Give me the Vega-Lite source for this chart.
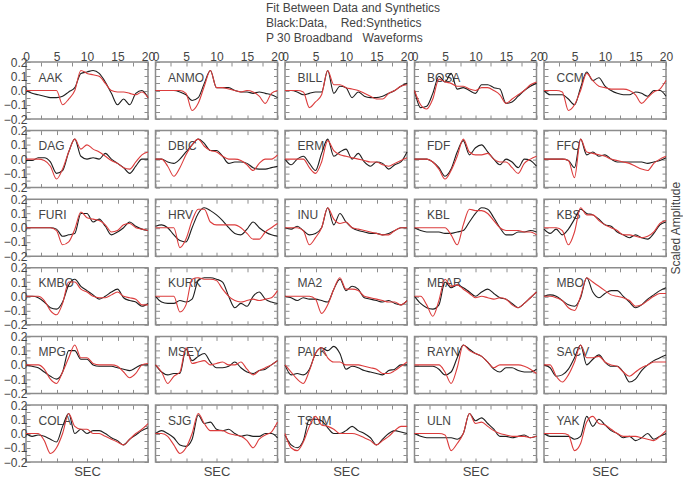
{
"$schema":"https://vega.github.io/schema/vega-lite/v6.json",
"padding":{"left":2,"top":2,"right":0,"bottom":0},
"background":"white",
"title":{"text":["Fit Between Data and Synthetics","Black:Data,\u00a0\u00a0\u00a0 Red:Synthetics","P 30 Broadband\u00a0\u00a0 Waveforms"],"anchor":"start","frame":"group","dx":240,"offset":4,"fontSize":12,"font":"Liberation Sans Narrow, Liberation Sans, sans-serif","fontWeight":"normal","color":"#444","lineHeight":15},
"datasets":{
"AAK":[{"t":0,"d":0,"r":0},{"t":1,"d":-0.02,"r":0},{"t":2,"d":-0.03,"r":0},{"t":3,"d":-0.04,"r":0},{"t":4,"d":-0.05,"r":0},{"t":5,"d":-0.05,"r":0},{"t":6,"d":-0.04,"r":-0.1},{"t":7,"d":-0.01,"r":-0.06},{"t":8,"d":0.02,"r":0},{"t":9,"d":0.12,"r":0.14},{"t":10,"d":0.13,"r":0.12},{"t":11,"d":0.14,"r":0.11},{"t":12,"d":0.12,"r":0.1},{"t":13,"d":0.06,"r":0.05},{"t":14,"d":-0.02,"r":0},{"t":15,"d":-0.1,"r":-0.01},{"t":16,"d":-0.06,"r":-0.01},{"t":17,"d":-0.1,"r":-0.02},{"t":18,"d":-0.02,"r":-0.03},{"t":19,"d":0,"r":-0.01},{"t":20,"d":-0.05,"r":-0.05}],
"ANMO":[{"t":0,"d":0,"r":0},{"t":1,"d":0,"r":0},{"t":2,"d":0,"r":0},{"t":3,"d":0,"r":0},{"t":4,"d":-0.01,"r":0},{"t":5,"d":-0.03,"r":-0.02},{"t":6,"d":-0.07,"r":-0.14},{"t":7,"d":-0.05,"r":-0.09},{"t":8,"d":0.05,"r":0.03},{"t":9,"d":0.14,"r":0.14},{"t":10,"d":0.02,"r":0.02},{"t":11,"d":0.02,"r":0.02},{"t":12,"d":0.02,"r":0.01},{"t":13,"d":0,"r":0},{"t":14,"d":-0.01,"r":-0.01},{"t":15,"d":-0.01,"r":0},{"t":16,"d":-0.02,"r":-0.01},{"t":17,"d":-0.01,"r":-0.04},{"t":18,"d":-0.02,"r":-0.09},{"t":19,"d":-0.03,"r":-0.02},{"t":20,"d":-0.05,"r":0}],
"BILL":[{"t":0,"d":0,"r":0},{"t":1,"d":0,"r":0},{"t":2,"d":-0.01,"r":0},{"t":3,"d":-0.03,"r":-0.01},{"t":4,"d":-0.02,"r":-0.12},{"t":5,"d":-0.01,"r":-0.08},{"t":6,"d":-0.01,"r":-0.03},{"t":7,"d":0.14,"r":0.14},{"t":8,"d":-0.02,"r":0.04},{"t":9,"d":0.03,"r":0.04},{"t":10,"d":0.02,"r":0.02},{"t":11,"d":-0.05,"r":0.01},{"t":12,"d":-0.01,"r":0},{"t":13,"d":-0.04,"r":-0.02},{"t":14,"d":-0.05,"r":-0.04},{"t":15,"d":-0.05,"r":-0.06},{"t":16,"d":-0.04,"r":-0.06},{"t":17,"d":-0.02,"r":-0.02},{"t":18,"d":0,"r":0},{"t":19,"d":0.03,"r":0.03},{"t":20,"d":0.05,"r":0.04}],
"BOSA":[{"t":0,"d":0,"r":0},{"t":1,"d":-0.12,"r":-0.1},{"t":2,"d":-0.11,"r":-0.13},{"t":3,"d":-0.02,"r":-0.06},{"t":4,"d":0.1,"r":0.08},{"t":5,"d":0.06,"r":0.06},{"t":6,"d":0.12,"r":0.05},{"t":7,"d":0.01,"r":0.03},{"t":8,"d":0.02,"r":0.03},{"t":9,"d":0,"r":0.01},{"t":10,"d":-0.02,"r":0},{"t":11,"d":0.04,"r":0.02},{"t":12,"d":0.04,"r":0.02},{"t":13,"d":0.02,"r":0},{"t":14,"d":0.01,"r":-0.03},{"t":15,"d":-0.09,"r":-0.09},{"t":16,"d":-0.08,"r":-0.06},{"t":17,"d":-0.04,"r":-0.03},{"t":18,"d":0,"r":0},{"t":19,"d":0.03,"r":0.04},{"t":20,"d":0.05,"r":0.06}],
"CCM":[{"t":0,"d":0,"r":0},{"t":1,"d":-0.03,"r":0},{"t":2,"d":-0.03,"r":0},{"t":3,"d":-0.03,"r":-0.01},{"t":4,"d":-0.06,"r":-0.14},{"t":5,"d":-0.1,"r":-0.1},{"t":6,"d":0.02,"r":0},{"t":7,"d":0.13,"r":0.12},{"t":8,"d":0.07,"r":0.07},{"t":9,"d":0.09,"r":0.03},{"t":10,"d":0.03,"r":0.02},{"t":11,"d":0,"r":0.01},{"t":12,"d":-0.02,"r":0.01},{"t":13,"d":-0.03,"r":0.01},{"t":14,"d":-0.03,"r":0},{"t":15,"d":-0.01,"r":-0.03},{"t":16,"d":-0.02,"r":-0.09},{"t":17,"d":-0.04,"r":-0.05},{"t":18,"d":0,"r":-0.01},{"t":19,"d":0,"r":0.01},{"t":20,"d":-0.04,"r":0.07}],
"DAG":[{"t":0,"d":-0.01,"r":0},{"t":1,"d":-0.01,"r":0},{"t":2,"d":0.01,"r":0},{"t":3,"d":0.01,"r":-0.01},{"t":4,"d":-0.02,"r":-0.05},{"t":5,"d":-0.1,"r":-0.14},{"t":6,"d":-0.08,"r":-0.07},{"t":7,"d":0.05,"r":0.05},{"t":8,"d":0.14,"r":0.14},{"t":9,"d":0.02,"r":0.07},{"t":10,"d":0,"r":0.1},{"t":11,"d":0.01,"r":0.07},{"t":12,"d":0,"r":0.05},{"t":13,"d":0.04,"r":0.02},{"t":14,"d":0,"r":-0.01},{"t":15,"d":-0.03,"r":-0.03},{"t":16,"d":-0.06,"r":-0.06},{"t":17,"d":-0.1,"r":-0.07},{"t":18,"d":-0.05,"r":-0.02},{"t":19,"d":0,"r":0.03},{"t":20,"d":0,"r":0.05}],
"DBIC":[{"t":0,"d":0,"r":0},{"t":1,"d":0,"r":0},{"t":2,"d":-0.02,"r":-0.05},{"t":3,"d":-0.03,"r":-0.12},{"t":4,"d":0,"r":-0.06},{"t":5,"d":0.05,"r":0.03},{"t":6,"d":0.1,"r":0.1},{"t":7,"d":0.14,"r":0.14},{"t":8,"d":0.11,"r":0.09},{"t":9,"d":0.06,"r":0.06},{"t":10,"d":0.06,"r":0.05},{"t":11,"d":0.02,"r":0.02},{"t":12,"d":-0.03,"r":0},{"t":13,"d":-0.02,"r":0},{"t":14,"d":-0.02,"r":-0.01},{"t":15,"d":-0.03,"r":-0.04},{"t":16,"d":-0.06,"r":-0.08},{"t":17,"d":-0.07,"r":-0.03},{"t":18,"d":-0.07,"r":0},{"t":19,"d":-0.06,"r":0},{"t":20,"d":-0.05,"r":0.03}],
"ERM":[{"t":0,"d":0,"r":0},{"t":1,"d":-0.04,"r":0},{"t":2,"d":0,"r":0},{"t":3,"d":0.02,"r":0},{"t":4,"d":-0.03,"r":-0.06},{"t":5,"d":-0.08,"r":-0.1},{"t":6,"d":0.04,"r":-0.02},{"t":7,"d":0.14,"r":0.13},{"t":8,"d":0.02,"r":0.06},{"t":9,"d":0.05,"r":0.03},{"t":10,"d":0.07,"r":0.02},{"t":11,"d":0,"r":0.01},{"t":12,"d":0.04,"r":0},{"t":13,"d":-0.02,"r":-0.01},{"t":14,"d":-0.05,"r":-0.02},{"t":15,"d":-0.02,"r":-0.02},{"t":16,"d":-0.03,"r":-0.04},{"t":17,"d":-0.07,"r":-0.05},{"t":18,"d":-0.04,"r":-0.03},{"t":19,"d":-0.02,"r":-0.01},{"t":20,"d":0.05,"r":0.01}],
"FDF":[{"t":0,"d":0,"r":0},{"t":1,"d":0,"r":0},{"t":2,"d":0,"r":0},{"t":3,"d":-0.02,"r":-0.02},{"t":4,"d":-0.06,"r":-0.07},{"t":5,"d":-0.12,"r":-0.14},{"t":6,"d":-0.07,"r":-0.08},{"t":7,"d":0.05,"r":0.02},{"t":8,"d":0.13,"r":0.14},{"t":9,"d":0.03,"r":0.05},{"t":10,"d":0.08,"r":0.03},{"t":11,"d":0.1,"r":0.03},{"t":12,"d":0.05,"r":0.04},{"t":13,"d":0,"r":0},{"t":14,"d":-0.04,"r":-0.02},{"t":15,"d":0,"r":-0.02},{"t":16,"d":-0.02,"r":-0.06},{"t":17,"d":-0.06,"r":-0.1},{"t":18,"d":0,"r":-0.03},{"t":19,"d":-0.01,"r":0},{"t":20,"d":-0.05,"r":0.02}],
"FFC":[{"t":0,"d":0,"r":0},{"t":1,"d":0,"r":0},{"t":2,"d":0,"r":0},{"t":3,"d":0,"r":0},{"t":4,"d":-0.01,"r":-0.01},{"t":5,"d":-0.06,"r":-0.13},{"t":6,"d":0.14,"r":0.14},{"t":7,"d":0.03,"r":0.05},{"t":8,"d":0.05,"r":0.04},{"t":9,"d":0.02,"r":0.03},{"t":10,"d":0.03,"r":0.02},{"t":11,"d":0,"r":0},{"t":12,"d":-0.02,"r":-0.01},{"t":13,"d":-0.02,"r":-0.02},{"t":14,"d":-0.02,"r":-0.03},{"t":15,"d":-0.02,"r":-0.05},{"t":16,"d":-0.02,"r":-0.07},{"t":17,"d":-0.03,"r":-0.08},{"t":18,"d":-0.02,"r":-0.03},{"t":19,"d":-0.01,"r":0},{"t":20,"d":0.01,"r":0.02}],
"FURI":[{"t":0,"d":0,"r":0},{"t":1,"d":0,"r":0},{"t":2,"d":0,"r":0},{"t":3,"d":0,"r":0},{"t":4,"d":0,"r":0},{"t":5,"d":-0.01,"r":-0.02},{"t":6,"d":-0.06,"r":-0.12},{"t":7,"d":-0.05,"r":-0.1},{"t":8,"d":-0.04,"r":-0.01},{"t":9,"d":0.1,"r":0.11},{"t":10,"d":0.1,"r":0.07},{"t":11,"d":0.04,"r":0.06},{"t":12,"d":0.06,"r":0.05},{"t":13,"d":0.01,"r":0.02},{"t":14,"d":-0.05,"r":-0.03},{"t":15,"d":-0.03,"r":-0.02},{"t":16,"d":0,"r":0.02},{"t":17,"d":0.04,"r":0.03},{"t":18,"d":0.01,"r":0},{"t":19,"d":-0.01,"r":-0.01},{"t":20,"d":-0.02,"r":-0.02}],
"HRV":[{"t":0,"d":0.01,"r":0},{"t":1,"d":0.02,"r":0},{"t":2,"d":0,"r":0},{"t":3,"d":-0.05,"r":0},{"t":4,"d":-0.09,"r":-0.14},{"t":5,"d":-0.1,"r":-0.08},{"t":6,"d":0,"r":0.05},{"t":7,"d":0.1,"r":0.13},{"t":8,"d":0.14,"r":0.13},{"t":9,"d":0.12,"r":0.04},{"t":10,"d":0.09,"r":0.02},{"t":11,"d":0.05,"r":0.02},{"t":12,"d":0,"r":0.02},{"t":13,"d":-0.04,"r":0.02},{"t":14,"d":-0.05,"r":0},{"t":15,"d":-0.01,"r":-0.04},{"t":16,"d":0.04,"r":-0.08},{"t":17,"d":0,"r":-0.08},{"t":18,"d":-0.03,"r":-0.03},{"t":19,"d":-0.05,"r":0},{"t":20,"d":-0.06,"r":0.03}],
"INU":[{"t":0,"d":0,"r":0},{"t":1,"d":-0.01,"r":0},{"t":2,"d":0.01,"r":0},{"t":3,"d":-0.02,"r":-0.02},{"t":4,"d":-0.05,"r":-0.12},{"t":5,"d":-0.04,"r":-0.07},{"t":6,"d":0,"r":0},{"t":7,"d":0.14,"r":0.14},{"t":8,"d":0.02,"r":0.06},{"t":9,"d":0.1,"r":0.03},{"t":10,"d":0.04,"r":0.04},{"t":11,"d":0,"r":0},{"t":12,"d":-0.02,"r":-0.01},{"t":13,"d":-0.03,"r":-0.02},{"t":14,"d":-0.04,"r":-0.03},{"t":15,"d":-0.04,"r":-0.04},{"t":16,"d":-0.05,"r":-0.05},{"t":17,"d":-0.04,"r":-0.05},{"t":18,"d":-0.02,"r":-0.02},{"t":19,"d":0,"r":0},{"t":20,"d":0,"r":0}],
"KBL":[{"t":0,"d":0,"r":0},{"t":1,"d":-0.02,"r":0},{"t":2,"d":-0.03,"r":0},{"t":3,"d":-0.03,"r":0},{"t":4,"d":-0.03,"r":0},{"t":5,"d":-0.04,"r":0},{"t":6,"d":-0.04,"r":-0.05},{"t":7,"d":-0.03,"r":-0.12},{"t":8,"d":-0.02,"r":0.02},{"t":9,"d":0.04,"r":0.13},{"t":10,"d":0.1,"r":0.12},{"t":11,"d":0.14,"r":0.12},{"t":12,"d":0.13,"r":0.1},{"t":13,"d":0.07,"r":0.05},{"t":14,"d":0,"r":0},{"t":15,"d":-0.05,"r":-0.02},{"t":16,"d":-0.05,"r":-0.02},{"t":17,"d":-0.03,"r":-0.02},{"t":18,"d":-0.03,"r":-0.03},{"t":19,"d":-0.02,"r":-0.03},{"t":20,"d":-0.03,"r":-0.05}],
"KBS":[{"t":0,"d":-0.01,"r":0},{"t":1,"d":-0.04,"r":0},{"t":2,"d":-0.01,"r":0},{"t":3,"d":-0.05,"r":-0.02},{"t":4,"d":-0.01,"r":-0.12},{"t":5,"d":0.06,"r":-0.03},{"t":6,"d":0.13,"r":0.14},{"t":7,"d":0.1,"r":0.09},{"t":8,"d":0.09,"r":0.09},{"t":9,"d":0.06,"r":0.05},{"t":10,"d":0.02,"r":0.02},{"t":11,"d":0.01,"r":0},{"t":12,"d":-0.03,"r":-0.02},{"t":13,"d":-0.05,"r":-0.05},{"t":14,"d":-0.07,"r":-0.05},{"t":15,"d":-0.05,"r":-0.06},{"t":16,"d":-0.07,"r":-0.07},{"t":17,"d":-0.08,"r":-0.06},{"t":18,"d":-0.04,"r":-0.03},{"t":19,"d":0.02,"r":0.03},{"t":20,"d":0.04,"r":0.05}],
"KMBO":[{"t":0,"d":0,"r":0},{"t":1,"d":0,"r":0},{"t":2,"d":-0.01,"r":0},{"t":3,"d":-0.04,"r":-0.03},{"t":4,"d":-0.08,"r":-0.1},{"t":5,"d":-0.09,"r":-0.13},{"t":6,"d":-0.04,"r":-0.05},{"t":7,"d":0.08,"r":0.1},{"t":8,"d":0.12,"r":0.1},{"t":9,"d":0.07,"r":0.05},{"t":10,"d":0.04,"r":0.03},{"t":11,"d":0.01,"r":0},{"t":12,"d":-0.02,"r":-0.01},{"t":13,"d":0,"r":-0.01},{"t":14,"d":0.03,"r":0.01},{"t":15,"d":0.05,"r":0.03},{"t":16,"d":-0.01,"r":0},{"t":17,"d":-0.03,"r":-0.01},{"t":18,"d":-0.04,"r":-0.02},{"t":19,"d":-0.07,"r":-0.06},{"t":20,"d":-0.05,"r":-0.06}],
"KURK":[{"t":0,"d":0,"r":0},{"t":1,"d":-0.04,"r":0},{"t":2,"d":-0.05,"r":0},{"t":3,"d":-0.05,"r":0},{"t":4,"d":-0.03,"r":-0.11},{"t":5,"d":-0.04,"r":-0.06},{"t":6,"d":-0.02,"r":0.12},{"t":7,"d":0.11,"r":0.13},{"t":8,"d":0.13,"r":0.12},{"t":9,"d":0.13,"r":0.12},{"t":10,"d":0.12,"r":0.11},{"t":11,"d":0.1,"r":0.05},{"t":12,"d":0,"r":0},{"t":13,"d":-0.08,"r":-0.03},{"t":14,"d":-0.05,"r":-0.04},{"t":15,"d":-0.07,"r":-0.03},{"t":16,"d":0,"r":-0.02},{"t":17,"d":0.03,"r":-0.03},{"t":18,"d":-0.02,"r":-0.02},{"t":19,"d":-0.04,"r":-0.01},{"t":20,"d":-0.05,"r":0.04}],
"MA2":[{"t":0,"d":0,"r":0},{"t":1,"d":-0.01,"r":0},{"t":2,"d":-0.03,"r":0},{"t":3,"d":-0.01,"r":0},{"t":4,"d":-0.02,"r":0},{"t":5,"d":-0.02,"r":-0.02},{"t":6,"d":-0.03,"r":-0.12},{"t":7,"d":-0.04,"r":-0.06},{"t":8,"d":0.05,"r":0.05},{"t":9,"d":0.12,"r":0.13},{"t":10,"d":0.04,"r":0.05},{"t":11,"d":0.07,"r":0.05},{"t":12,"d":0.05,"r":0.04},{"t":13,"d":-0.01,"r":0},{"t":14,"d":-0.02,"r":-0.01},{"t":15,"d":-0.03,"r":-0.02},{"t":16,"d":-0.04,"r":-0.03},{"t":17,"d":-0.03,"r":-0.04},{"t":18,"d":-0.05,"r":-0.04},{"t":19,"d":-0.06,"r":-0.06},{"t":20,"d":-0.03,"r":-0.03}],
"MBAR":[{"t":0,"d":0,"r":0},{"t":1,"d":-0.05,"r":0},{"t":2,"d":-0.08,"r":-0.06},{"t":3,"d":-0.09,"r":-0.14},{"t":4,"d":-0.06,"r":-0.03},{"t":5,"d":0.1,"r":0.12},{"t":6,"d":0.06,"r":0.07},{"t":7,"d":0.08,"r":0.08},{"t":8,"d":0.06,"r":0.05},{"t":9,"d":0.03,"r":0.02},{"t":10,"d":0,"r":-0.01},{"t":11,"d":0.03,"r":0},{"t":12,"d":0.05,"r":-0.01},{"t":13,"d":0.02,"r":-0.02},{"t":14,"d":-0.01,"r":-0.01},{"t":15,"d":-0.02,"r":-0.02},{"t":16,"d":-0.05,"r":-0.06},{"t":17,"d":-0.08,"r":-0.08},{"t":18,"d":-0.05,"r":-0.05},{"t":19,"d":-0.01,"r":-0.01},{"t":20,"d":0.03,"r":0.03}],
"MBO":[{"t":0,"d":0,"r":0},{"t":1,"d":0.01,"r":0},{"t":2,"d":0,"r":-0.01},{"t":3,"d":-0.03,"r":-0.03},{"t":4,"d":-0.06,"r":-0.08},{"t":5,"d":-0.07,"r":-0.1},{"t":6,"d":-0.01,"r":0},{"t":7,"d":0.13,"r":0.13},{"t":8,"d":0.03,"r":0.1},{"t":9,"d":-0.01,"r":0.07},{"t":10,"d":0.02,"r":0.04},{"t":11,"d":0.04,"r":0.01},{"t":12,"d":0.04,"r":0},{"t":13,"d":0,"r":-0.01},{"t":14,"d":-0.04,"r":-0.03},{"t":15,"d":-0.08,"r":-0.07},{"t":16,"d":-0.06,"r":-0.06},{"t":17,"d":-0.02,"r":-0.03},{"t":18,"d":0.01,"r":0},{"t":19,"d":0.04,"r":0.02},{"t":20,"d":0.06,"r":0.02}],
"MPG":[{"t":0,"d":0,"r":0},{"t":1,"d":-0.01,"r":0},{"t":2,"d":-0.02,"r":0},{"t":3,"d":-0.05,"r":-0.03},{"t":4,"d":-0.08,"r":-0.1},{"t":5,"d":-0.1,"r":-0.13},{"t":6,"d":-0.05,"r":-0.05},{"t":7,"d":0.1,"r":0.05},{"t":8,"d":0.1,"r":0.14},{"t":9,"d":0.04,"r":0.05},{"t":10,"d":0.04,"r":0.05},{"t":11,"d":0,"r":0.01},{"t":12,"d":-0.01,"r":0},{"t":13,"d":-0.01,"r":0},{"t":14,"d":-0.01,"r":0},{"t":15,"d":-0.02,"r":-0.01},{"t":16,"d":-0.03,"r":-0.05},{"t":17,"d":-0.04,"r":-0.09},{"t":18,"d":-0.02,"r":-0.06},{"t":19,"d":0,"r":0},{"t":20,"d":0,"r":0.01}],
"MSEY":[{"t":0,"d":0,"r":0},{"t":1,"d":-0.05,"r":-0.05},{"t":2,"d":-0.07,"r":-0.13},{"t":3,"d":-0.06,"r":-0.08},{"t":4,"d":-0.06,"r":-0.05},{"t":5,"d":0.11,"r":0.12},{"t":6,"d":0.03,"r":0.01},{"t":7,"d":0.06,"r":0.02},{"t":8,"d":0.08,"r":0.03},{"t":9,"d":0.02,"r":0},{"t":10,"d":-0.02,"r":0.01},{"t":11,"d":-0.02,"r":0.02},{"t":12,"d":-0.01,"r":0},{"t":13,"d":0.02,"r":0},{"t":14,"d":-0.02,"r":0.02},{"t":15,"d":-0.05,"r":-0.03},{"t":16,"d":-0.06,"r":-0.07},{"t":17,"d":-0.04,"r":-0.04},{"t":18,"d":-0.03,"r":-0.02},{"t":19,"d":0,"r":0},{"t":20,"d":0.03,"r":0.03}],
"PALK":[{"t":0,"d":0,"r":0},{"t":1,"d":-0.07,"r":-0.05},{"t":2,"d":-0.06,"r":-0.1},{"t":3,"d":-0.07,"r":-0.13},{"t":4,"d":-0.03,"r":-0.04},{"t":5,"d":0.08,"r":0.08},{"t":6,"d":0.12,"r":0.12},{"t":7,"d":0.1,"r":0.05},{"t":8,"d":0.13,"r":0.02},{"t":9,"d":0.08,"r":0.02},{"t":10,"d":-0.03,"r":0},{"t":11,"d":-0.01,"r":0},{"t":12,"d":-0.02,"r":0},{"t":13,"d":-0.04,"r":-0.01},{"t":14,"d":-0.05,"r":-0.02},{"t":15,"d":-0.06,"r":-0.03},{"t":16,"d":-0.07,"r":-0.06},{"t":17,"d":-0.04,"r":-0.06},{"t":18,"d":-0.03,"r":-0.04},{"t":19,"d":0,"r":-0.01},{"t":20,"d":0,"r":0.02}],
"RAYN":[{"t":0,"d":-0.01,"r":0},{"t":1,"d":-0.01,"r":0},{"t":2,"d":-0.01,"r":0},{"t":3,"d":-0.01,"r":0},{"t":4,"d":-0.03,"r":0},{"t":5,"d":-0.07,"r":-0.05},{"t":6,"d":-0.05,"r":-0.13},{"t":7,"d":0.05,"r":-0.02},{"t":8,"d":0.14,"r":0.14},{"t":9,"d":0.11,"r":0.1},{"t":10,"d":0.08,"r":0.08},{"t":11,"d":0.06,"r":0.06},{"t":12,"d":0.02,"r":0.02},{"t":13,"d":-0.03,"r":-0.02},{"t":14,"d":-0.05,"r":0},{"t":15,"d":-0.02,"r":0},{"t":16,"d":-0.02,"r":0},{"t":17,"d":-0.04,"r":0},{"t":18,"d":-0.05,"r":-0.01},{"t":19,"d":-0.05,"r":-0.03},{"t":20,"d":-0.03,"r":-0.06}],
"SACV":[{"t":0,"d":0,"r":0},{"t":1,"d":-0.02,"r":0},{"t":2,"d":-0.08,"r":-0.08},{"t":3,"d":-0.07,"r":-0.12},{"t":4,"d":-0.03,"r":-0.07},{"t":5,"d":0.05,"r":0.02},{"t":6,"d":0.14,"r":0.14},{"t":7,"d":0,"r":0.05},{"t":8,"d":0.04,"r":0.05},{"t":9,"d":0.07,"r":0.06},{"t":10,"d":0.02,"r":0.02},{"t":11,"d":-0.01,"r":0},{"t":12,"d":-0.01,"r":-0.01},{"t":13,"d":-0.05,"r":-0.05},{"t":14,"d":-0.12,"r":-0.08},{"t":15,"d":-0.1,"r":-0.05},{"t":16,"d":-0.04,"r":-0.02},{"t":17,"d":0,"r":0},{"t":18,"d":0.03,"r":0.02},{"t":19,"d":0.05,"r":0.02},{"t":20,"d":0.07,"r":0.02}],
"COLA":[{"t":0,"d":0,"r":0},{"t":1,"d":-0.02,"r":0},{"t":2,"d":-0.01,"r":0},{"t":3,"d":-0.02,"r":-0.05},{"t":4,"d":-0.04,"r":-0.14},{"t":5,"d":-0.06,"r":-0.1},{"t":6,"d":0.05,"r":0},{"t":7,"d":0.14,"r":0.14},{"t":8,"d":0,"r":0.05},{"t":9,"d":0.03,"r":0.03},{"t":10,"d":0,"r":0.03},{"t":11,"d":0.02,"r":0},{"t":12,"d":0.02,"r":0},{"t":13,"d":0,"r":-0.02},{"t":14,"d":-0.03,"r":-0.04},{"t":15,"d":-0.05,"r":-0.06},{"t":16,"d":-0.08,"r":-0.08},{"t":17,"d":-0.04,"r":-0.04},{"t":18,"d":-0.01,"r":0},{"t":19,"d":0.02,"r":0.03},{"t":20,"d":0.04,"r":0.07}],
"SJG":[{"t":0,"d":0,"r":0},{"t":1,"d":0.02,"r":0},{"t":2,"d":0,"r":-0.02},{"t":3,"d":-0.03,"r":-0.08},{"t":4,"d":-0.08,"r":-0.14},{"t":5,"d":-0.09,"r":-0.1},{"t":6,"d":-0.04,"r":0},{"t":7,"d":0.13,"r":0.14},{"t":8,"d":0.07,"r":0.07},{"t":9,"d":0.08,"r":0.02},{"t":10,"d":0.03,"r":0.02},{"t":11,"d":0.02,"r":0.02},{"t":12,"d":0.03,"r":0},{"t":13,"d":0,"r":-0.01},{"t":14,"d":-0.02,"r":-0.02},{"t":15,"d":-0.01,"r":-0.05},{"t":16,"d":-0.02,"r":-0.1},{"t":17,"d":-0.02,"r":-0.04},{"t":18,"d":0,"r":-0.01},{"t":19,"d":0,"r":0.01},{"t":20,"d":-0.03,"r":0.08}],
"TSUM":[{"t":0,"d":-0.01,"r":0},{"t":1,"d":-0.08,"r":-0.1},{"t":2,"d":-0.1,"r":-0.12},{"t":3,"d":-0.05,"r":-0.06},{"t":4,"d":0.1,"r":0.05},{"t":5,"d":0.1,"r":0.12},{"t":6,"d":0.09,"r":0.06},{"t":7,"d":0.04,"r":0.05},{"t":8,"d":0,"r":0.03},{"t":9,"d":0,"r":0},{"t":10,"d":0.02,"r":0},{"t":11,"d":0.05,"r":0},{"t":12,"d":0.02,"r":-0.01},{"t":13,"d":0,"r":-0.03},{"t":14,"d":-0.03,"r":-0.05},{"t":15,"d":-0.08,"r":-0.08},{"t":16,"d":-0.04,"r":-0.05},{"t":17,"d":0,"r":-0.02},{"t":18,"d":0.02,"r":0.02},{"t":19,"d":0.01,"r":0.05},{"t":20,"d":0,"r":0.05}],
"ULN":[{"t":0,"d":0,"r":0},{"t":1,"d":-0.02,"r":0},{"t":2,"d":-0.03,"r":0},{"t":3,"d":-0.03,"r":0},{"t":4,"d":-0.03,"r":0},{"t":5,"d":-0.03,"r":-0.01},{"t":6,"d":-0.03,"r":-0.12},{"t":7,"d":-0.04,"r":-0.07},{"t":8,"d":0,"r":0},{"t":9,"d":0.14,"r":0.14},{"t":10,"d":0.09,"r":0.07},{"t":11,"d":0.11,"r":0.08},{"t":12,"d":0.07,"r":0.05},{"t":13,"d":0.03,"r":0.02},{"t":14,"d":-0.02,"r":0},{"t":15,"d":-0.02,"r":-0.01},{"t":16,"d":-0.03,"r":-0.02},{"t":17,"d":-0.02,"r":-0.02},{"t":18,"d":-0.01,"r":-0.02},{"t":19,"d":-0.03,"r":-0.03},{"t":20,"d":-0.02,"r":-0.02}],
"YAK":[{"t":0,"d":0,"r":0},{"t":1,"d":-0.02,"r":0},{"t":2,"d":-0.02,"r":0},{"t":3,"d":-0.02,"r":0},{"t":4,"d":-0.02,"r":-0.01},{"t":5,"d":-0.04,"r":-0.12},{"t":6,"d":-0.02,"r":-0.07},{"t":7,"d":0.12,"r":0.08},{"t":8,"d":0.05,"r":0.12},{"t":9,"d":0.1,"r":0.07},{"t":10,"d":0.06,"r":0.06},{"t":11,"d":0.02,"r":0.03},{"t":12,"d":0,"r":0},{"t":13,"d":-0.03,"r":-0.02},{"t":14,"d":-0.02,"r":-0.02},{"t":15,"d":-0.05,"r":-0.02},{"t":16,"d":-0.03,"r":-0.03},{"t":17,"d":0,"r":-0.04},{"t":18,"d":-0.04,"r":-0.05},{"t":19,"d":-0.02,"r":-0.02},{"t":20,"d":0,"r":0.02}]
},
"columns":5,
"spacing":{"row":11.6,"column":7.5},
"bounds":"flush",
"concat":[
{"data":{"name":"AAK"},"layer":[{"mark":{"type":"line","color":"#1e1e1e"},"encoding":{"x":{"field":"t","type":"quantitative","scale":{"domain":[0,20]},"axis":{"values":[0,2.5,5,7.5,10,12.5,15,17.5,20],"title":null}},"y":{"field":"d","type":"quantitative","scale":{"domain":[-0.2,0.2]},"axis":{"tickCount":8,"title":"AAK","labels":true,"labelExpr":"abs(datum.value*10-round(datum.value*10))<0.01?format(datum.value,'.1f'):''"}}}},{"mark":{"type":"line","color":"#dc3c3c"},"encoding":{"x":{"field":"t","type":"quantitative","scale":{"domain":[0,20]},"axis":{"orient":"top","values":[0,2.5,5,7.5,10,12.5,15,17.5,20],"title":null,"labels":true,"labelExpr":"datum.value%5==0?format(datum.value,'d'):''"}},"y":{"field":"r","type":"quantitative","scale":{"domain":[-0.2,0.2]},"axis":{"orient":"right","tickCount":8,"title":null}}}}],"resolve":{"axis":{"x":"independent","y":"independent"}}},
{"data":{"name":"ANMO"},"layer":[{"mark":{"type":"line","color":"#1e1e1e"},"encoding":{"x":{"field":"t","type":"quantitative","scale":{"domain":[0,20]},"axis":{"values":[0,2.5,5,7.5,10,12.5,15,17.5,20],"title":null}},"y":{"field":"d","type":"quantitative","scale":{"domain":[-0.2,0.2]},"axis":{"tickCount":8,"title":"ANMO"}}}},{"mark":{"type":"line","color":"#dc3c3c"},"encoding":{"x":{"field":"t","type":"quantitative","scale":{"domain":[0,20]},"axis":{"orient":"top","values":[0,2.5,5,7.5,10,12.5,15,17.5,20],"title":null,"labels":true,"labelExpr":"datum.value%5==0?format(datum.value,'d'):''"}},"y":{"field":"r","type":"quantitative","scale":{"domain":[-0.2,0.2]},"axis":{"orient":"right","tickCount":8,"title":null}}}}],"resolve":{"axis":{"x":"independent","y":"independent"}}},
{"data":{"name":"BILL"},"layer":[{"mark":{"type":"line","color":"#1e1e1e"},"encoding":{"x":{"field":"t","type":"quantitative","scale":{"domain":[0,20]},"axis":{"values":[0,2.5,5,7.5,10,12.5,15,17.5,20],"title":null}},"y":{"field":"d","type":"quantitative","scale":{"domain":[-0.2,0.2]},"axis":{"tickCount":8,"title":"BILL"}}}},{"mark":{"type":"line","color":"#dc3c3c"},"encoding":{"x":{"field":"t","type":"quantitative","scale":{"domain":[0,20]},"axis":{"orient":"top","values":[0,2.5,5,7.5,10,12.5,15,17.5,20],"title":null,"labels":true,"labelExpr":"datum.value%5==0?format(datum.value,'d'):''"}},"y":{"field":"r","type":"quantitative","scale":{"domain":[-0.2,0.2]},"axis":{"orient":"right","tickCount":8,"title":null}}}}],"resolve":{"axis":{"x":"independent","y":"independent"}}},
{"data":{"name":"BOSA"},"layer":[{"mark":{"type":"line","color":"#1e1e1e"},"encoding":{"x":{"field":"t","type":"quantitative","scale":{"domain":[0,20]},"axis":{"values":[0,2.5,5,7.5,10,12.5,15,17.5,20],"title":null}},"y":{"field":"d","type":"quantitative","scale":{"domain":[-0.2,0.2]},"axis":{"tickCount":8,"title":"BOSA"}}}},{"mark":{"type":"line","color":"#dc3c3c"},"encoding":{"x":{"field":"t","type":"quantitative","scale":{"domain":[0,20]},"axis":{"orient":"top","values":[0,2.5,5,7.5,10,12.5,15,17.5,20],"title":null,"labels":true,"labelExpr":"datum.value%5==0?format(datum.value,'d'):''"}},"y":{"field":"r","type":"quantitative","scale":{"domain":[-0.2,0.2]},"axis":{"orient":"right","tickCount":8,"title":null}}}}],"resolve":{"axis":{"x":"independent","y":"independent"}}},
{"data":{"name":"CCM"},"layer":[{"mark":{"type":"line","color":"#1e1e1e"},"encoding":{"x":{"field":"t","type":"quantitative","scale":{"domain":[0,20]},"axis":{"values":[0,2.5,5,7.5,10,12.5,15,17.5,20],"title":null}},"y":{"field":"d","type":"quantitative","scale":{"domain":[-0.2,0.2]},"axis":{"tickCount":8,"title":"CCM"}}}},{"mark":{"type":"line","color":"#dc3c3c"},"encoding":{"x":{"field":"t","type":"quantitative","scale":{"domain":[0,20]},"axis":{"orient":"top","values":[0,2.5,5,7.5,10,12.5,15,17.5,20],"title":null,"labels":true,"labelExpr":"datum.value%5==0?format(datum.value,'d'):''"}},"y":{"field":"r","type":"quantitative","scale":{"domain":[-0.2,0.2]},"axis":{"orient":"right","tickCount":8,"title":null}}}}],"resolve":{"axis":{"x":"independent","y":"independent"}}},
{"data":{"name":"DAG"},"layer":[{"mark":{"type":"line","color":"#1e1e1e"},"encoding":{"x":{"field":"t","type":"quantitative","scale":{"domain":[0,20]},"axis":{"values":[0,2.5,5,7.5,10,12.5,15,17.5,20],"title":null}},"y":{"field":"d","type":"quantitative","scale":{"domain":[-0.2,0.2]},"axis":{"tickCount":8,"title":"DAG","labels":true,"labelExpr":"abs(datum.value*10-round(datum.value*10))<0.01?format(datum.value,'.1f'):''"}}}},{"mark":{"type":"line","color":"#dc3c3c"},"encoding":{"x":{"field":"t","type":"quantitative","scale":{"domain":[0,20]},"axis":{"orient":"top","values":[0,2.5,5,7.5,10,12.5,15,17.5,20],"title":null}},"y":{"field":"r","type":"quantitative","scale":{"domain":[-0.2,0.2]},"axis":{"orient":"right","tickCount":8,"title":null}}}}],"resolve":{"axis":{"x":"independent","y":"independent"}}},
{"data":{"name":"DBIC"},"layer":[{"mark":{"type":"line","color":"#1e1e1e"},"encoding":{"x":{"field":"t","type":"quantitative","scale":{"domain":[0,20]},"axis":{"values":[0,2.5,5,7.5,10,12.5,15,17.5,20],"title":null}},"y":{"field":"d","type":"quantitative","scale":{"domain":[-0.2,0.2]},"axis":{"tickCount":8,"title":"DBIC"}}}},{"mark":{"type":"line","color":"#dc3c3c"},"encoding":{"x":{"field":"t","type":"quantitative","scale":{"domain":[0,20]},"axis":{"orient":"top","values":[0,2.5,5,7.5,10,12.5,15,17.5,20],"title":null}},"y":{"field":"r","type":"quantitative","scale":{"domain":[-0.2,0.2]},"axis":{"orient":"right","tickCount":8,"title":null}}}}],"resolve":{"axis":{"x":"independent","y":"independent"}}},
{"data":{"name":"ERM"},"layer":[{"mark":{"type":"line","color":"#1e1e1e"},"encoding":{"x":{"field":"t","type":"quantitative","scale":{"domain":[0,20]},"axis":{"values":[0,2.5,5,7.5,10,12.5,15,17.5,20],"title":null}},"y":{"field":"d","type":"quantitative","scale":{"domain":[-0.2,0.2]},"axis":{"tickCount":8,"title":"ERM"}}}},{"mark":{"type":"line","color":"#dc3c3c"},"encoding":{"x":{"field":"t","type":"quantitative","scale":{"domain":[0,20]},"axis":{"orient":"top","values":[0,2.5,5,7.5,10,12.5,15,17.5,20],"title":null}},"y":{"field":"r","type":"quantitative","scale":{"domain":[-0.2,0.2]},"axis":{"orient":"right","tickCount":8,"title":null}}}}],"resolve":{"axis":{"x":"independent","y":"independent"}}},
{"data":{"name":"FDF"},"layer":[{"mark":{"type":"line","color":"#1e1e1e"},"encoding":{"x":{"field":"t","type":"quantitative","scale":{"domain":[0,20]},"axis":{"values":[0,2.5,5,7.5,10,12.5,15,17.5,20],"title":null}},"y":{"field":"d","type":"quantitative","scale":{"domain":[-0.2,0.2]},"axis":{"tickCount":8,"title":"FDF"}}}},{"mark":{"type":"line","color":"#dc3c3c"},"encoding":{"x":{"field":"t","type":"quantitative","scale":{"domain":[0,20]},"axis":{"orient":"top","values":[0,2.5,5,7.5,10,12.5,15,17.5,20],"title":null}},"y":{"field":"r","type":"quantitative","scale":{"domain":[-0.2,0.2]},"axis":{"orient":"right","tickCount":8,"title":null}}}}],"resolve":{"axis":{"x":"independent","y":"independent"}}},
{"data":{"name":"FFC"},"layer":[{"mark":{"type":"line","color":"#1e1e1e"},"encoding":{"x":{"field":"t","type":"quantitative","scale":{"domain":[0,20]},"axis":{"values":[0,2.5,5,7.5,10,12.5,15,17.5,20],"title":null}},"y":{"field":"d","type":"quantitative","scale":{"domain":[-0.2,0.2]},"axis":{"tickCount":8,"title":"FFC"}}}},{"mark":{"type":"line","color":"#dc3c3c"},"encoding":{"x":{"field":"t","type":"quantitative","scale":{"domain":[0,20]},"axis":{"orient":"top","values":[0,2.5,5,7.5,10,12.5,15,17.5,20],"title":null}},"y":{"field":"r","type":"quantitative","scale":{"domain":[-0.2,0.2]},"axis":{"orient":"right","tickCount":8,"title":null}}}}],"resolve":{"axis":{"x":"independent","y":"independent"}}},
{"data":{"name":"FURI"},"layer":[{"mark":{"type":"line","color":"#1e1e1e"},"encoding":{"x":{"field":"t","type":"quantitative","scale":{"domain":[0,20]},"axis":{"values":[0,2.5,5,7.5,10,12.5,15,17.5,20],"title":null}},"y":{"field":"d","type":"quantitative","scale":{"domain":[-0.2,0.2]},"axis":{"tickCount":8,"title":"FURI","labels":true,"labelExpr":"abs(datum.value*10-round(datum.value*10))<0.01?format(datum.value,'.1f'):''"}}}},{"mark":{"type":"line","color":"#dc3c3c"},"encoding":{"x":{"field":"t","type":"quantitative","scale":{"domain":[0,20]},"axis":{"orient":"top","values":[0,2.5,5,7.5,10,12.5,15,17.5,20],"title":null}},"y":{"field":"r","type":"quantitative","scale":{"domain":[-0.2,0.2]},"axis":{"orient":"right","tickCount":8,"title":null}}}}],"resolve":{"axis":{"x":"independent","y":"independent"}}},
{"data":{"name":"HRV"},"layer":[{"mark":{"type":"line","color":"#1e1e1e"},"encoding":{"x":{"field":"t","type":"quantitative","scale":{"domain":[0,20]},"axis":{"values":[0,2.5,5,7.5,10,12.5,15,17.5,20],"title":null}},"y":{"field":"d","type":"quantitative","scale":{"domain":[-0.2,0.2]},"axis":{"tickCount":8,"title":"HRV"}}}},{"mark":{"type":"line","color":"#dc3c3c"},"encoding":{"x":{"field":"t","type":"quantitative","scale":{"domain":[0,20]},"axis":{"orient":"top","values":[0,2.5,5,7.5,10,12.5,15,17.5,20],"title":null}},"y":{"field":"r","type":"quantitative","scale":{"domain":[-0.2,0.2]},"axis":{"orient":"right","tickCount":8,"title":null}}}}],"resolve":{"axis":{"x":"independent","y":"independent"}}},
{"data":{"name":"INU"},"layer":[{"mark":{"type":"line","color":"#1e1e1e"},"encoding":{"x":{"field":"t","type":"quantitative","scale":{"domain":[0,20]},"axis":{"values":[0,2.5,5,7.5,10,12.5,15,17.5,20],"title":null}},"y":{"field":"d","type":"quantitative","scale":{"domain":[-0.2,0.2]},"axis":{"tickCount":8,"title":"INU"}}}},{"mark":{"type":"line","color":"#dc3c3c"},"encoding":{"x":{"field":"t","type":"quantitative","scale":{"domain":[0,20]},"axis":{"orient":"top","values":[0,2.5,5,7.5,10,12.5,15,17.5,20],"title":null}},"y":{"field":"r","type":"quantitative","scale":{"domain":[-0.2,0.2]},"axis":{"orient":"right","tickCount":8,"title":null}}}}],"resolve":{"axis":{"x":"independent","y":"independent"}}},
{"data":{"name":"KBL"},"layer":[{"mark":{"type":"line","color":"#1e1e1e"},"encoding":{"x":{"field":"t","type":"quantitative","scale":{"domain":[0,20]},"axis":{"values":[0,2.5,5,7.5,10,12.5,15,17.5,20],"title":null}},"y":{"field":"d","type":"quantitative","scale":{"domain":[-0.2,0.2]},"axis":{"tickCount":8,"title":"KBL"}}}},{"mark":{"type":"line","color":"#dc3c3c"},"encoding":{"x":{"field":"t","type":"quantitative","scale":{"domain":[0,20]},"axis":{"orient":"top","values":[0,2.5,5,7.5,10,12.5,15,17.5,20],"title":null}},"y":{"field":"r","type":"quantitative","scale":{"domain":[-0.2,0.2]},"axis":{"orient":"right","tickCount":8,"title":null}}}}],"resolve":{"axis":{"x":"independent","y":"independent"}}},
{"data":{"name":"KBS"},"layer":[{"mark":{"type":"line","color":"#1e1e1e"},"encoding":{"x":{"field":"t","type":"quantitative","scale":{"domain":[0,20]},"axis":{"values":[0,2.5,5,7.5,10,12.5,15,17.5,20],"title":null}},"y":{"field":"d","type":"quantitative","scale":{"domain":[-0.2,0.2]},"axis":{"tickCount":8,"title":"KBS"}}}},{"mark":{"type":"line","color":"#dc3c3c"},"encoding":{"x":{"field":"t","type":"quantitative","scale":{"domain":[0,20]},"axis":{"orient":"top","values":[0,2.5,5,7.5,10,12.5,15,17.5,20],"title":null}},"y":{"field":"r","type":"quantitative","scale":{"domain":[-0.2,0.2]},"axis":{"orient":"right","tickCount":8,"title":"Scaled Amplitude","titleAngle":270,"titleBaseline":"top","titleAlign":"center","titlePadding":4,"titleFontSize":12}}}}],"resolve":{"axis":{"x":"independent","y":"independent"}}},
{"data":{"name":"KMBO"},"layer":[{"mark":{"type":"line","color":"#1e1e1e"},"encoding":{"x":{"field":"t","type":"quantitative","scale":{"domain":[0,20]},"axis":{"values":[0,2.5,5,7.5,10,12.5,15,17.5,20],"title":null}},"y":{"field":"d","type":"quantitative","scale":{"domain":[-0.2,0.2]},"axis":{"tickCount":8,"title":"KMBO","labels":true,"labelExpr":"abs(datum.value*10-round(datum.value*10))<0.01?format(datum.value,'.1f'):''"}}}},{"mark":{"type":"line","color":"#dc3c3c"},"encoding":{"x":{"field":"t","type":"quantitative","scale":{"domain":[0,20]},"axis":{"orient":"top","values":[0,2.5,5,7.5,10,12.5,15,17.5,20],"title":null}},"y":{"field":"r","type":"quantitative","scale":{"domain":[-0.2,0.2]},"axis":{"orient":"right","tickCount":8,"title":null}}}}],"resolve":{"axis":{"x":"independent","y":"independent"}}},
{"data":{"name":"KURK"},"layer":[{"mark":{"type":"line","color":"#1e1e1e"},"encoding":{"x":{"field":"t","type":"quantitative","scale":{"domain":[0,20]},"axis":{"values":[0,2.5,5,7.5,10,12.5,15,17.5,20],"title":null}},"y":{"field":"d","type":"quantitative","scale":{"domain":[-0.2,0.2]},"axis":{"tickCount":8,"title":"KURK"}}}},{"mark":{"type":"line","color":"#dc3c3c"},"encoding":{"x":{"field":"t","type":"quantitative","scale":{"domain":[0,20]},"axis":{"orient":"top","values":[0,2.5,5,7.5,10,12.5,15,17.5,20],"title":null}},"y":{"field":"r","type":"quantitative","scale":{"domain":[-0.2,0.2]},"axis":{"orient":"right","tickCount":8,"title":null}}}}],"resolve":{"axis":{"x":"independent","y":"independent"}}},
{"data":{"name":"MA2"},"layer":[{"mark":{"type":"line","color":"#1e1e1e"},"encoding":{"x":{"field":"t","type":"quantitative","scale":{"domain":[0,20]},"axis":{"values":[0,2.5,5,7.5,10,12.5,15,17.5,20],"title":null}},"y":{"field":"d","type":"quantitative","scale":{"domain":[-0.2,0.2]},"axis":{"tickCount":8,"title":"MA2"}}}},{"mark":{"type":"line","color":"#dc3c3c"},"encoding":{"x":{"field":"t","type":"quantitative","scale":{"domain":[0,20]},"axis":{"orient":"top","values":[0,2.5,5,7.5,10,12.5,15,17.5,20],"title":null}},"y":{"field":"r","type":"quantitative","scale":{"domain":[-0.2,0.2]},"axis":{"orient":"right","tickCount":8,"title":null}}}}],"resolve":{"axis":{"x":"independent","y":"independent"}}},
{"data":{"name":"MBAR"},"layer":[{"mark":{"type":"line","color":"#1e1e1e"},"encoding":{"x":{"field":"t","type":"quantitative","scale":{"domain":[0,20]},"axis":{"values":[0,2.5,5,7.5,10,12.5,15,17.5,20],"title":null}},"y":{"field":"d","type":"quantitative","scale":{"domain":[-0.2,0.2]},"axis":{"tickCount":8,"title":"MBAR"}}}},{"mark":{"type":"line","color":"#dc3c3c"},"encoding":{"x":{"field":"t","type":"quantitative","scale":{"domain":[0,20]},"axis":{"orient":"top","values":[0,2.5,5,7.5,10,12.5,15,17.5,20],"title":null}},"y":{"field":"r","type":"quantitative","scale":{"domain":[-0.2,0.2]},"axis":{"orient":"right","tickCount":8,"title":null}}}}],"resolve":{"axis":{"x":"independent","y":"independent"}}},
{"data":{"name":"MBO"},"layer":[{"mark":{"type":"line","color":"#1e1e1e"},"encoding":{"x":{"field":"t","type":"quantitative","scale":{"domain":[0,20]},"axis":{"values":[0,2.5,5,7.5,10,12.5,15,17.5,20],"title":null}},"y":{"field":"d","type":"quantitative","scale":{"domain":[-0.2,0.2]},"axis":{"tickCount":8,"title":"MBO"}}}},{"mark":{"type":"line","color":"#dc3c3c"},"encoding":{"x":{"field":"t","type":"quantitative","scale":{"domain":[0,20]},"axis":{"orient":"top","values":[0,2.5,5,7.5,10,12.5,15,17.5,20],"title":null}},"y":{"field":"r","type":"quantitative","scale":{"domain":[-0.2,0.2]},"axis":{"orient":"right","tickCount":8,"title":null}}}}],"resolve":{"axis":{"x":"independent","y":"independent"}}},
{"data":{"name":"MPG"},"layer":[{"mark":{"type":"line","color":"#1e1e1e"},"encoding":{"x":{"field":"t","type":"quantitative","scale":{"domain":[0,20]},"axis":{"values":[0,2.5,5,7.5,10,12.5,15,17.5,20],"title":null}},"y":{"field":"d","type":"quantitative","scale":{"domain":[-0.2,0.2]},"axis":{"tickCount":8,"title":"MPG","labels":true,"labelExpr":"abs(datum.value*10-round(datum.value*10))<0.01?format(datum.value,'.1f'):''"}}}},{"mark":{"type":"line","color":"#dc3c3c"},"encoding":{"x":{"field":"t","type":"quantitative","scale":{"domain":[0,20]},"axis":{"orient":"top","values":[0,2.5,5,7.5,10,12.5,15,17.5,20],"title":null}},"y":{"field":"r","type":"quantitative","scale":{"domain":[-0.2,0.2]},"axis":{"orient":"right","tickCount":8,"title":null}}}}],"resolve":{"axis":{"x":"independent","y":"independent"}}},
{"data":{"name":"MSEY"},"layer":[{"mark":{"type":"line","color":"#1e1e1e"},"encoding":{"x":{"field":"t","type":"quantitative","scale":{"domain":[0,20]},"axis":{"values":[0,2.5,5,7.5,10,12.5,15,17.5,20],"title":null}},"y":{"field":"d","type":"quantitative","scale":{"domain":[-0.2,0.2]},"axis":{"tickCount":8,"title":"MSEY"}}}},{"mark":{"type":"line","color":"#dc3c3c"},"encoding":{"x":{"field":"t","type":"quantitative","scale":{"domain":[0,20]},"axis":{"orient":"top","values":[0,2.5,5,7.5,10,12.5,15,17.5,20],"title":null}},"y":{"field":"r","type":"quantitative","scale":{"domain":[-0.2,0.2]},"axis":{"orient":"right","tickCount":8,"title":null}}}}],"resolve":{"axis":{"x":"independent","y":"independent"}}},
{"data":{"name":"PALK"},"layer":[{"mark":{"type":"line","color":"#1e1e1e"},"encoding":{"x":{"field":"t","type":"quantitative","scale":{"domain":[0,20]},"axis":{"values":[0,2.5,5,7.5,10,12.5,15,17.5,20],"title":null}},"y":{"field":"d","type":"quantitative","scale":{"domain":[-0.2,0.2]},"axis":{"tickCount":8,"title":"PALK"}}}},{"mark":{"type":"line","color":"#dc3c3c"},"encoding":{"x":{"field":"t","type":"quantitative","scale":{"domain":[0,20]},"axis":{"orient":"top","values":[0,2.5,5,7.5,10,12.5,15,17.5,20],"title":null}},"y":{"field":"r","type":"quantitative","scale":{"domain":[-0.2,0.2]},"axis":{"orient":"right","tickCount":8,"title":null}}}}],"resolve":{"axis":{"x":"independent","y":"independent"}}},
{"data":{"name":"RAYN"},"layer":[{"mark":{"type":"line","color":"#1e1e1e"},"encoding":{"x":{"field":"t","type":"quantitative","scale":{"domain":[0,20]},"axis":{"values":[0,2.5,5,7.5,10,12.5,15,17.5,20],"title":null}},"y":{"field":"d","type":"quantitative","scale":{"domain":[-0.2,0.2]},"axis":{"tickCount":8,"title":"RAYN"}}}},{"mark":{"type":"line","color":"#dc3c3c"},"encoding":{"x":{"field":"t","type":"quantitative","scale":{"domain":[0,20]},"axis":{"orient":"top","values":[0,2.5,5,7.5,10,12.5,15,17.5,20],"title":null}},"y":{"field":"r","type":"quantitative","scale":{"domain":[-0.2,0.2]},"axis":{"orient":"right","tickCount":8,"title":null}}}}],"resolve":{"axis":{"x":"independent","y":"independent"}}},
{"data":{"name":"SACV"},"layer":[{"mark":{"type":"line","color":"#1e1e1e"},"encoding":{"x":{"field":"t","type":"quantitative","scale":{"domain":[0,20]},"axis":{"values":[0,2.5,5,7.5,10,12.5,15,17.5,20],"title":null}},"y":{"field":"d","type":"quantitative","scale":{"domain":[-0.2,0.2]},"axis":{"tickCount":8,"title":"SACV"}}}},{"mark":{"type":"line","color":"#dc3c3c"},"encoding":{"x":{"field":"t","type":"quantitative","scale":{"domain":[0,20]},"axis":{"orient":"top","values":[0,2.5,5,7.5,10,12.5,15,17.5,20],"title":null}},"y":{"field":"r","type":"quantitative","scale":{"domain":[-0.2,0.2]},"axis":{"orient":"right","tickCount":8,"title":null}}}}],"resolve":{"axis":{"x":"independent","y":"independent"}}},
{"data":{"name":"COLA"},"layer":[{"mark":{"type":"line","color":"#1e1e1e"},"encoding":{"x":{"field":"t","type":"quantitative","scale":{"domain":[0,20]},"axis":{"values":[0,2.5,5,7.5,10,12.5,15,17.5,20],"title":"SEC"}},"y":{"field":"d","type":"quantitative","scale":{"domain":[-0.2,0.2]},"axis":{"tickCount":8,"title":"COLA","labels":true,"labelExpr":"abs(datum.value*10-round(datum.value*10))<0.01?format(datum.value,'.1f'):''"}}}},{"mark":{"type":"line","color":"#dc3c3c"},"encoding":{"x":{"field":"t","type":"quantitative","scale":{"domain":[0,20]},"axis":{"orient":"top","values":[0,2.5,5,7.5,10,12.5,15,17.5,20],"title":null}},"y":{"field":"r","type":"quantitative","scale":{"domain":[-0.2,0.2]},"axis":{"orient":"right","tickCount":8,"title":null}}}}],"resolve":{"axis":{"x":"independent","y":"independent"}}},
{"data":{"name":"SJG"},"layer":[{"mark":{"type":"line","color":"#1e1e1e"},"encoding":{"x":{"field":"t","type":"quantitative","scale":{"domain":[0,20]},"axis":{"values":[0,2.5,5,7.5,10,12.5,15,17.5,20],"title":"SEC"}},"y":{"field":"d","type":"quantitative","scale":{"domain":[-0.2,0.2]},"axis":{"tickCount":8,"title":"SJG"}}}},{"mark":{"type":"line","color":"#dc3c3c"},"encoding":{"x":{"field":"t","type":"quantitative","scale":{"domain":[0,20]},"axis":{"orient":"top","values":[0,2.5,5,7.5,10,12.5,15,17.5,20],"title":null}},"y":{"field":"r","type":"quantitative","scale":{"domain":[-0.2,0.2]},"axis":{"orient":"right","tickCount":8,"title":null}}}}],"resolve":{"axis":{"x":"independent","y":"independent"}}},
{"data":{"name":"TSUM"},"layer":[{"mark":{"type":"line","color":"#1e1e1e"},"encoding":{"x":{"field":"t","type":"quantitative","scale":{"domain":[0,20]},"axis":{"values":[0,2.5,5,7.5,10,12.5,15,17.5,20],"title":"SEC"}},"y":{"field":"d","type":"quantitative","scale":{"domain":[-0.2,0.2]},"axis":{"tickCount":8,"title":"TSUM"}}}},{"mark":{"type":"line","color":"#dc3c3c"},"encoding":{"x":{"field":"t","type":"quantitative","scale":{"domain":[0,20]},"axis":{"orient":"top","values":[0,2.5,5,7.5,10,12.5,15,17.5,20],"title":null}},"y":{"field":"r","type":"quantitative","scale":{"domain":[-0.2,0.2]},"axis":{"orient":"right","tickCount":8,"title":null}}}}],"resolve":{"axis":{"x":"independent","y":"independent"}}},
{"data":{"name":"ULN"},"layer":[{"mark":{"type":"line","color":"#1e1e1e"},"encoding":{"x":{"field":"t","type":"quantitative","scale":{"domain":[0,20]},"axis":{"values":[0,2.5,5,7.5,10,12.5,15,17.5,20],"title":"SEC"}},"y":{"field":"d","type":"quantitative","scale":{"domain":[-0.2,0.2]},"axis":{"tickCount":8,"title":"ULN"}}}},{"mark":{"type":"line","color":"#dc3c3c"},"encoding":{"x":{"field":"t","type":"quantitative","scale":{"domain":[0,20]},"axis":{"orient":"top","values":[0,2.5,5,7.5,10,12.5,15,17.5,20],"title":null}},"y":{"field":"r","type":"quantitative","scale":{"domain":[-0.2,0.2]},"axis":{"orient":"right","tickCount":8,"title":null}}}}],"resolve":{"axis":{"x":"independent","y":"independent"}}},
{"data":{"name":"YAK"},"layer":[{"mark":{"type":"line","color":"#1e1e1e"},"encoding":{"x":{"field":"t","type":"quantitative","scale":{"domain":[0,20]},"axis":{"values":[0,2.5,5,7.5,10,12.5,15,17.5,20],"title":"SEC"}},"y":{"field":"d","type":"quantitative","scale":{"domain":[-0.2,0.2]},"axis":{"tickCount":8,"title":"YAK"}}}},{"mark":{"type":"line","color":"#dc3c3c"},"encoding":{"x":{"field":"t","type":"quantitative","scale":{"domain":[0,20]},"axis":{"orient":"top","values":[0,2.5,5,7.5,10,12.5,15,17.5,20],"title":null}},"y":{"field":"r","type":"quantitative","scale":{"domain":[-0.2,0.2]},"axis":{"orient":"right","tickCount":8,"title":null}}}}],"resolve":{"axis":{"x":"independent","y":"independent"}}}
],
"config":{
"view":{"stroke":"#8c8c8c","strokeWidth":1.5,"continuousWidth":122,"continuousHeight":57},
"line":{"interpolate":"monotone","strokeWidth":1.1},
"axis":{"domain":false,"grid":false,"ticks":true,"tickColor":"#8c8c8c","tickSize":-4,"tickWidth":1,"labels":false,"labelFont":"Liberation Sans Narrow, Liberation Sans, sans-serif","labelFontSize":12,"labelColor":"#444","labelOverlap":false,"labelFlush":false,"labelPadding":3,"titleFont":"Liberation Sans Narrow, Liberation Sans, sans-serif","titleFontSize":12,"titleFontWeight":"normal","titleColor":"#444"},
"axisLeft":{"titleAngle":0,"titleAlign":"left","titleBaseline":"middle","titleX":12,"titleY":15},
"axisBottom":{"titlePadding":3,"titleFontSize":13}
}
}
